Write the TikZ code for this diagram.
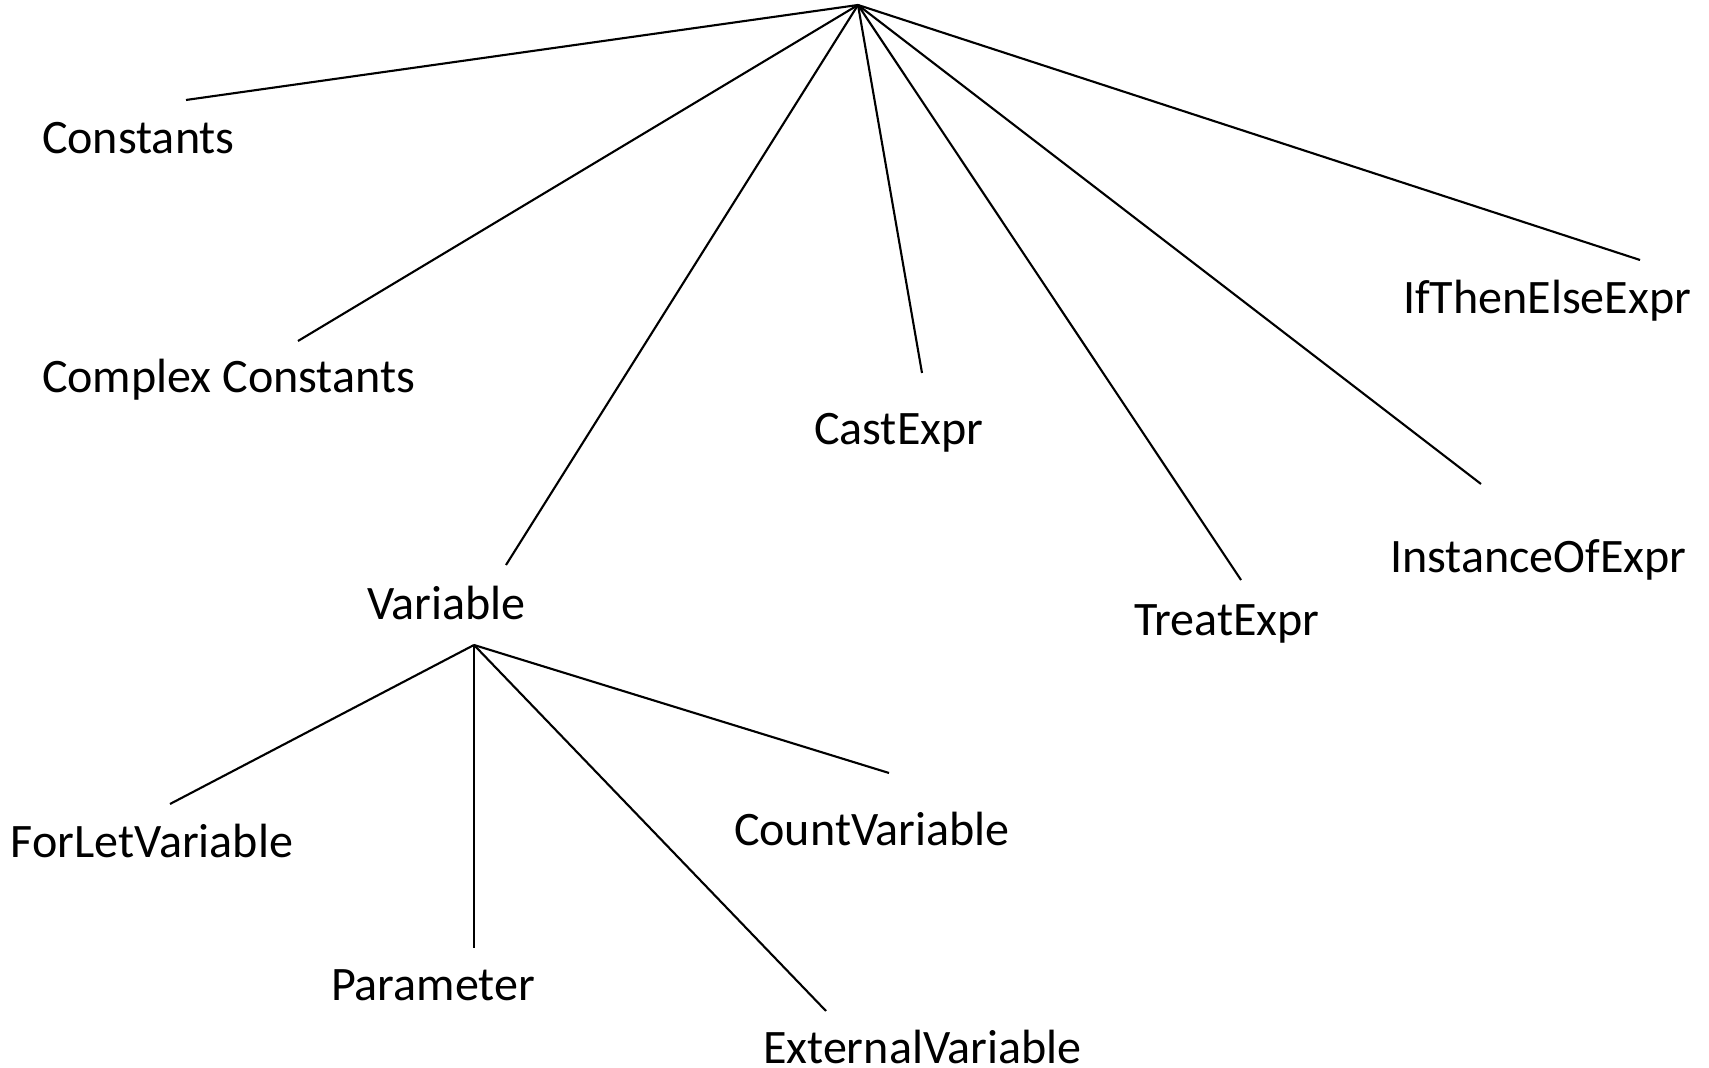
\documentclass[tikz,border=0pt]{standalone}
\usepackage{fontspec}
\setmainfont{Carlito}
\begin{document}
\begin{tikzpicture}[x=0.01cm,y=-0.01cm,
  lbl/.style={anchor=base west,inner sep=0pt,outer sep=0pt,font=\fontsize{13.67pt}{16pt}\selectfont},
  edge/.style={line width=0.6pt,black}]
\useasboundingbox (0,0) rectangle (1709,1068);
% root apex and child link ends
\coordinate (root) at (858,5);
\coordinate (cst) at (186,100);
\coordinate (ccst) at (298,341);
\coordinate (vart) at (506,565);
\coordinate (cast) at (922,373);
\coordinate (treat) at (1241,580);
\coordinate (inst) at (1481,484);
\coordinate (ite) at (1640,260);
\coordinate (varb) at (474,645);
\coordinate (forlet) at (170,804);
\coordinate (param) at (474,948);
\coordinate (ext) at (826,1011);
\coordinate (count) at (889,773);
% labels
\node[lbl] (nConst) at (42,154) {Constants};
\node[lbl] (nCConst) at (42,393) {Complex Constants};
\node[lbl] (nVar) at (367,620) {Variable};
\node[lbl] (nCast) at (814,445) {CastExpr};
\node[lbl] (nTreat) at (1134,636) {TreatExpr};
\node[lbl] (nInst) at (1390,573) {InstanceOfExpr};
\node[lbl] (nIte) at (1403,314) {IfThenElseExpr};
\node[lbl] (nForLet) at (11,858) {ForLetVariable};
\node[lbl] (nParam) at (331,1001) {Parameter};
\node[lbl] (nExt) at (763,1064) {ExternalVariable};
\node[lbl] (nCount) at (734,846) {CountVariable};
% connectors
\foreach \c in {cst,ccst,vart,cast,treat,inst,ite}
  \draw[edge] (root) -- (\c);
\foreach \c in {forlet,param,ext,count}
  \draw[edge] (varb) -- (\c);
\end{tikzpicture}
\end{document}
